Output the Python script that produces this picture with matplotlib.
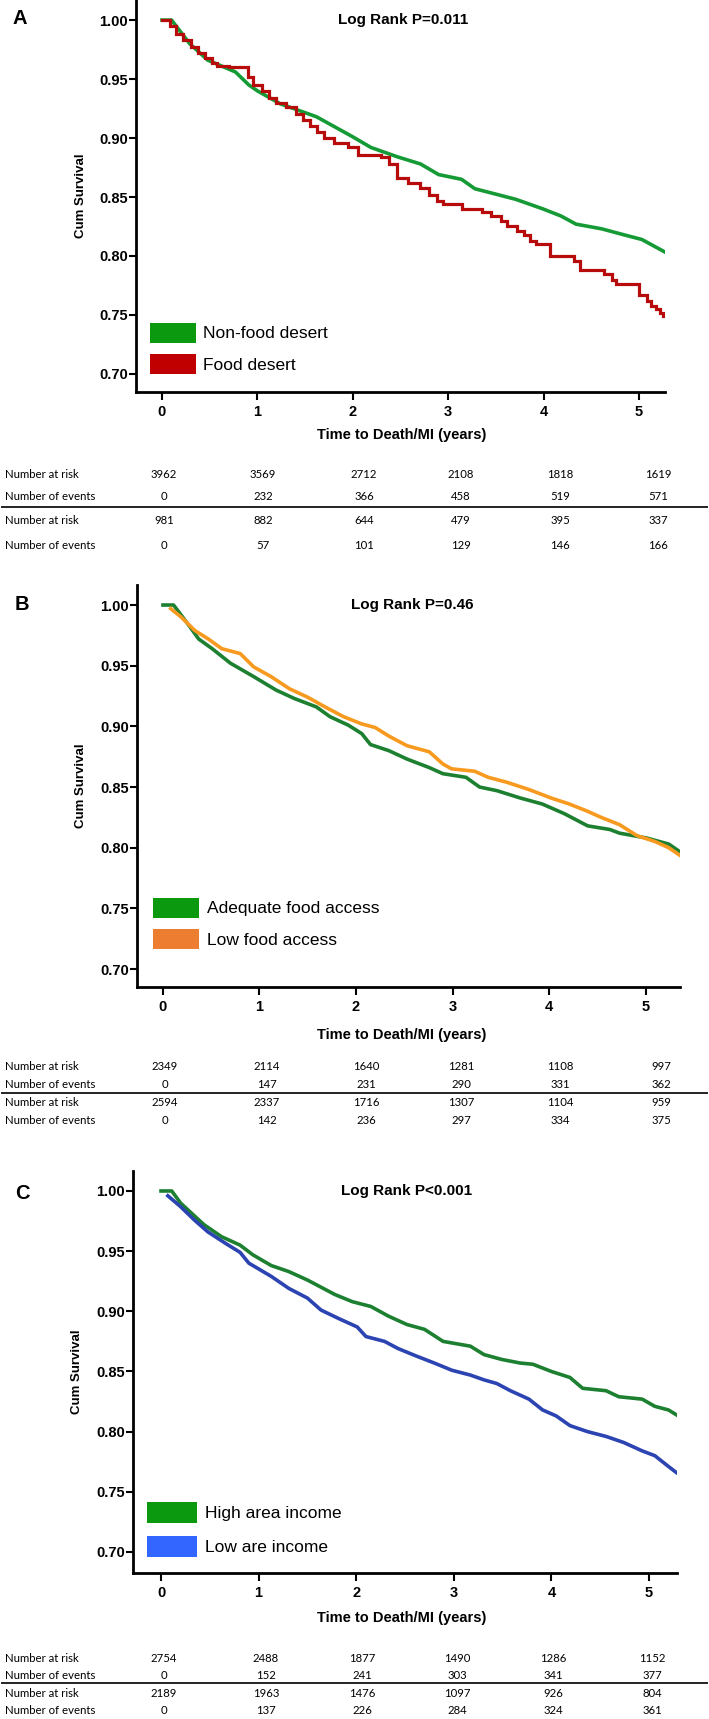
import matplotlib
matplotlib.use("Agg")
import matplotlib.pyplot as plt
from matplotlib.patches import Rectangle
from matplotlib import font_manager as fm

# ---------------- data ----------------
# Panel A
a_green_t = [0, 0.10, 0.29, 0.48, 0.77, 0.91, 1.00, 1.24, 1.62, 2.00, 2.19, 2.47, 2.71, 2.90,
             3.14, 3.28, 3.52, 3.71, 3.99, 4.18, 4.34, 4.61, 4.84, 5.03, 5.28]
a_green_s = [1.0, 1.0, 0.980, 0.966, 0.956, 0.945, 0.940, 0.929, 0.918, 0.901, 0.892, 0.884, 0.878, 0.869,
             0.865, 0.857, 0.852, 0.848, 0.840, 0.834, 0.827, 0.823, 0.818, 0.814, 0.803]
a_red_t = [0, 0.08, 0.15, 0.22, 0.30, 0.38, 0.45, 0.52, 0.58, 0.70, 0.90, 0.95, 1.05, 1.12, 1.20, 1.30,
           1.40, 1.48, 1.55, 1.62, 1.70, 1.80, 1.95, 2.05, 2.30, 2.38, 2.46, 2.58, 2.70, 2.80, 2.88,
           2.95, 3.15, 3.35, 3.45, 3.55, 3.62, 3.72, 3.80, 3.86, 3.92, 4.07, 4.32, 4.38, 4.63, 4.72,
           4.76, 5.00, 5.08, 5.13, 5.18, 5.22, 5.25, 5.28]
a_red_s = [1.0, 0.995, 0.988, 0.983, 0.977, 0.972, 0.968, 0.964, 0.961, 0.960, 0.952, 0.945, 0.940, 0.934,
           0.930, 0.926, 0.920, 0.915, 0.910, 0.905, 0.900, 0.896, 0.892, 0.886, 0.884, 0.878, 0.866,
           0.862, 0.858, 0.852, 0.847, 0.844, 0.840, 0.837, 0.834, 0.830, 0.825, 0.821, 0.818, 0.813,
           0.810, 0.800, 0.796, 0.788, 0.785, 0.780, 0.776, 0.767, 0.762, 0.758, 0.755, 0.752, 0.749, 0.749]

# Panel B
b_green_t = [0, 0.11, 0.28, 0.37, 0.51, 0.70, 0.94, 1.17, 1.36, 1.59, 1.73, 1.92, 2.06, 2.15, 2.34,
             2.53, 2.76, 2.90, 3.14, 3.28, 3.46, 3.70, 3.93, 4.16, 4.40, 4.63, 4.73, 5.01, 5.24, 5.35]
b_green_s = [1.0, 1.0, 0.982, 0.972, 0.964, 0.952, 0.941, 0.930, 0.923, 0.916, 0.908, 0.901, 0.894, 0.885,
             0.880, 0.873, 0.866, 0.861, 0.858, 0.850, 0.847, 0.841, 0.836, 0.828, 0.818, 0.815, 0.812,
             0.808, 0.803, 0.797]
b_orange_t = [0.08, 0.19, 0.33, 0.47, 0.61, 0.80, 0.94, 1.12, 1.31, 1.50, 1.68, 1.87, 2.06, 2.20, 2.34,
              2.53, 2.76, 2.90, 2.99, 3.23, 3.37, 3.56, 3.79, 4.02, 4.21, 4.40, 4.54, 4.73, 4.91, 5.10,
              5.24, 5.35]
b_orange_s = [0.997, 0.990, 0.979, 0.972, 0.964, 0.960, 0.949, 0.941, 0.931, 0.924, 0.916, 0.908, 0.902,
              0.899, 0.892, 0.884, 0.879, 0.869, 0.865, 0.863, 0.858, 0.854, 0.848, 0.841, 0.836, 0.830,
              0.825, 0.819, 0.810, 0.805, 0.800, 0.794]

# Panel C
c_green_t = [0, 0.11, 0.20, 0.32, 0.44, 0.62, 0.81, 0.94, 1.13, 1.31, 1.50, 1.64, 1.78, 1.96, 2.15,
             2.33, 2.52, 2.70, 2.89, 3.17, 3.31, 3.49, 3.68, 3.81, 4.00, 4.19, 4.32, 4.56, 4.69, 4.93,
             5.06, 5.20, 5.28]
c_green_s = [1.0, 1.0, 0.990, 0.981, 0.972, 0.962, 0.955, 0.947, 0.938, 0.933, 0.926, 0.920, 0.914, 0.908,
             0.904, 0.896, 0.889, 0.885, 0.875, 0.871, 0.864, 0.860, 0.857, 0.856, 0.850, 0.845, 0.836,
             0.834, 0.829, 0.827, 0.821, 0.818, 0.814]
c_blue_t = [0.07, 0.20, 0.34, 0.48, 0.67, 0.81, 0.90, 1.13, 1.31, 1.50, 1.64, 1.82, 2.01, 2.10, 2.29,
            2.43, 2.61, 2.80, 2.98, 3.17, 3.31, 3.44, 3.58, 3.77, 3.91, 4.05, 4.19, 4.37, 4.56, 4.74,
            4.93, 5.06, 5.20, 5.28]
c_blue_s = [0.996, 0.987, 0.976, 0.966, 0.956, 0.949, 0.940, 0.929, 0.919, 0.911, 0.901, 0.894, 0.887,
            0.879, 0.875, 0.869, 0.863, 0.857, 0.851, 0.847, 0.843, 0.840, 0.834, 0.827, 0.818, 0.813,
            0.805, 0.800, 0.796, 0.791, 0.784, 0.780, 0.771, 0.766]

y_ticks = [0.70, 0.75, 0.80, 0.85, 0.90, 0.95, 1.00]
x_ticks = [0, 1, 2, 3, 4, 5]

titles = ["Log Rank P=0.011", "Log Rank P=0.46", "Log Rank P<0.001"]
panel_letters = ["A", "B", "C"]
legend_labels = [["Non-food desert", "Food desert"],
                 ["Adequate food access", "Low food access"],
                 ["High area income", "Low are income"]]

row_labels = ["Number at risk", "Number of events", "Number at risk", "Number of events"]
a_table = [[3962, 3569, 2712, 2108, 1818, 1619],
           [0, 232, 366, 458, 519, 571],
           [981, 882, 644, 479, 395, 337],
           [0, 57, 101, 129, 146, 166]]
b_table = [[2349, 2114, 1640, 1281, 1108, 997],
           [0, 147, 231, 290, 331, 362],
           [2594, 2337, 1716, 1307, 1104, 959],
           [0, 142, 236, 297, 334, 375]]
c_table = [[2754, 2488, 1877, 1490, 1286, 1152],
           [0, 152, 241, 303, 341, 377],
           [2189, 1963, 1476, 1097, 926, 804],
           [0, 137, 226, 284, 324, 361]]

# ---------------- fonts ----------------
def has_font(name):
    try:
        fm.findfont(fm.FontProperties(family=name), fallback_to_default=False)
        return True
    except Exception:
        return False

NARROW = "Liberation Sans Narrow" if has_font("Liberation Sans Narrow") else "Liberation Sans"
TABLE_FONT = "Lato" if has_font("Lato") else "DejaVu Sans"

W, H = 709, 1719
fig = plt.figure(figsize=(W / 100, H / 100), dpi=100)
fig.patch.set_facecolor("white")

def fx(x):
    return x / W

def fy(y):
    return 1 - y / H

def rect(l, r, t, b):
    return [l / W, 1 - b / H, (r - l) / W, (b - t) / H]

panels = [
    dict(ax=(136, 665, 0, 392), xlim=(-0.2725, 5.273), ylim=(0.6847, 1.017),
         curves=[(a_green_t, a_green_s, "#169a35", "line"), (a_red_t, a_red_s, "#b80b0b", "step")],
         boxes=["#0a990f", "#c00000"], box_x=(150, 196), box_y=[(323, 343), (354, 374)], text_x=203,
         letter=(20, 18), title=(403, 20), ylabel_x=81, xlabel_y=435, tick_y=410,
         table=a_table, rows=[475, 497, 521, 545], line_y=507,
         cols=[164, 263, 364, 461, 560, 658]),
    dict(ax=(137, 680, 585, 987), xlim=(-0.269, 5.357), ylim=(0.6852, 1.0165),
         curves=[(b_green_t, b_green_s, "#1c8030", "line"), (b_orange_t, b_orange_s, "#f79a1f", "line")],
         boxes=["#0a990f", "#ed7d31"], box_x=(153, 199), box_y=[(898, 918), (929, 949)], text_x=207,
         letter=(22, 605), title=(412, 605), ylabel_x=81, xlabel_y=1035, tick_y=1006,
         table=b_table, rows=[1067, 1084, 1103, 1120], line_y=1093,
         cols=[165, 267, 366, 461, 560, 661]),
    dict(ax=(133, 677, 1171, 1573), xlim=(-0.287, 5.287), ylim=(0.6825, 1.0166),
         curves=[(c_green_t, c_green_s, "#1c8030", "line"), (c_blue_t, c_blue_s, "#2c44b2", "line")],
         boxes=["#0a990f", "#3366ff"], box_x=(147, 197), box_y=[(1502, 1523), (1536, 1557)], text_x=205,
         letter=(22, 1193), title=(407, 1191), ylabel_x=77, xlabel_y=1618, tick_y=1592,
         table=c_table, rows=[1658, 1675, 1693, 1710], line_y=1683,
         cols=[164, 266, 362, 457, 553, 652]),
]

for i, p in enumerate(panels):
    ax = fig.add_axes(rect(*p["ax"]))
    ax.set_xlim(*p["xlim"])
    ax.set_ylim(*p["ylim"])
    for side in ["top", "right"]:
        ax.spines[side].set_visible(False)
    for side in ["left", "bottom"]:
        ax.spines[side].set_linewidth(2.0)
        ax.spines[side].set_color("black")
    ax.set_xticks(x_ticks)
    ax.set_yticks(y_ticks)
    ax.set_yticklabels([f"{v:.2f}" for v in y_ticks])
    ax.tick_params(axis="y", direction="out", length=5, width=1.5, pad=1)
    ax.tick_params(axis="x", direction="out", length=6, width=1.5, pad=3)
    for lab in ax.get_xticklabels() + ax.get_yticklabels():
        lab.set_fontfamily(NARROW)
        lab.set_fontweight("bold")
        lab.set_fontsize(10.5)
    ax.set_facecolor("none")
    for t, s, col, kind in p["curves"]:
        if kind == "step":
            ax.step(t, s, where="post", color=col, lw=2.3, solid_joinstyle="miter")
        else:
            ax.plot(t, s, color=col, lw=2.6, solid_joinstyle="round")

    # panel letter and title
    fig.text(fx(p["letter"][0]), fy(p["letter"][1]), panel_letters[i], fontsize=14.5, fontweight="bold",
             family="Liberation Sans", ha="center", va="center")
    fig.text(fx(p["title"][0]), fy(p["title"][1]), titles[i], fontsize=11, fontweight="bold",
             family=NARROW, ha="center", va="center")
    # axis labels
    cy = (p["ax"][2] + p["ax"][3]) / 2
    fig.text(fx(p["ylabel_x"]), fy(cy), "Cum Survival", fontsize=9.5, fontweight="bold",
             family="Liberation Sans", rotation=90, ha="center", va="center")
    fig.text(fx(402), fy(p["xlabel_y"]), "Time to Death/MI (years)", fontsize=10.5,
             fontweight="bold", family=NARROW, ha="center", va="center")

    # legend boxes
    for j, (y0, y1) in enumerate(p["box_y"]):
        x0, x1 = p["box_x"]
        fig.patches.append(Rectangle((fx(x0), fy(y1)), fx(x1) - fx(x0), fy(y0) - fy(y1),
                                     transform=fig.transFigure, facecolor=p["boxes"][j],
                                     edgecolor="none", zorder=5))
        fig.text(fx(p["text_x"]), fy((y0 + y1) / 2 + 1), legend_labels[i][j], fontsize=12.5,
                 family=NARROW, ha="left", va="center", zorder=6)

    # number at risk table
    for r, ry in enumerate(p["rows"]):
        fig.text(fx(5), fy(ry), row_labels[r], fontsize=8.2, family=TABLE_FONT,
                 ha="left", va="center")
        for c, cxp in enumerate(p["cols"]):
            fig.text(fx(cxp), fy(ry), str(p["table"][r][c]), fontsize=8.2, family=TABLE_FONT,
                     ha="center", va="center")
    fig.add_artist(plt.Line2D([fx(2), fx(707)], [fy(p["line_y"]), fy(p["line_y"])],
                              color="#222222", lw=1.4, transform=fig.transFigure))

fig.savefig("out.png", dpi=100, facecolor="white")
